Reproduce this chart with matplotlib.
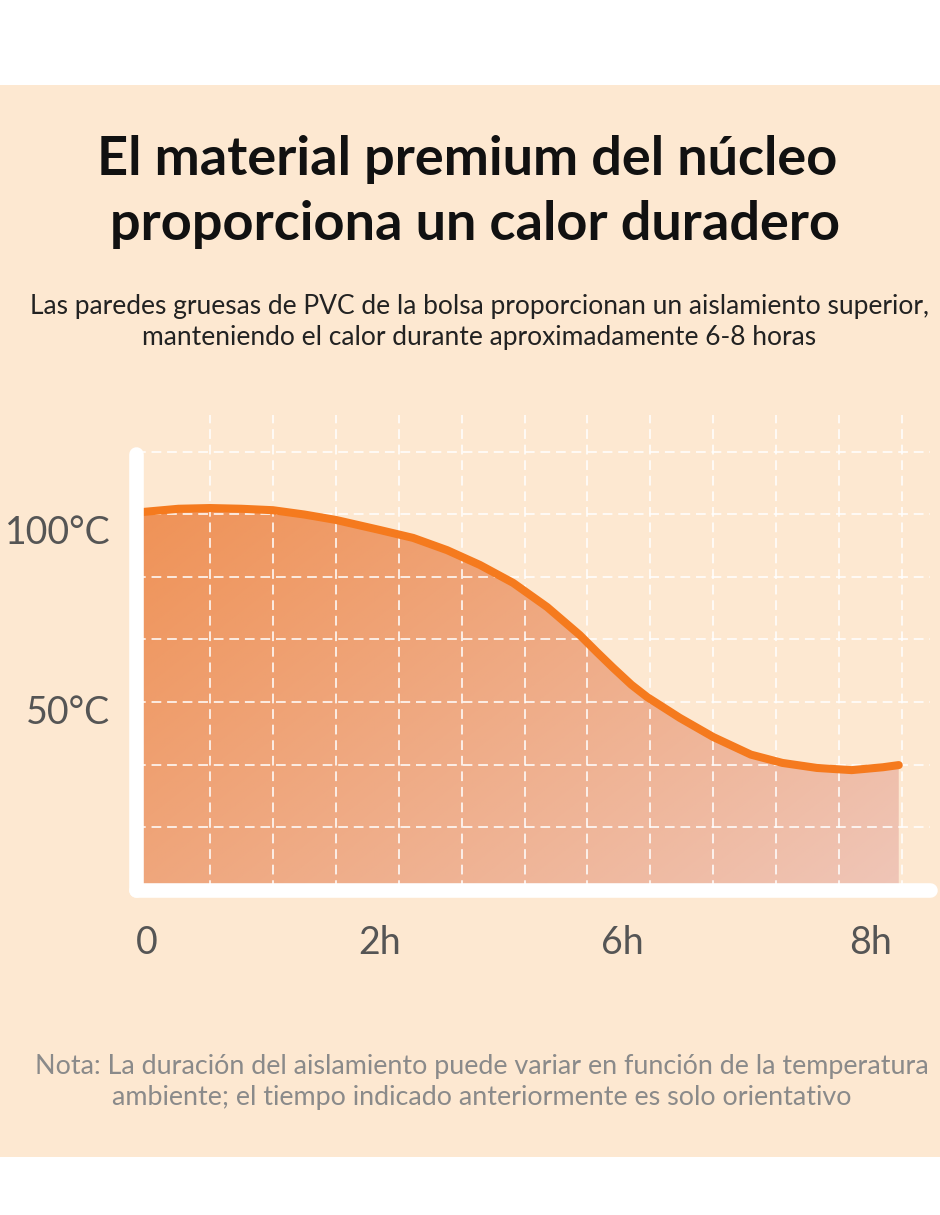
import numpy as np
import matplotlib
matplotlib.use("Agg")
import matplotlib.pyplot as plt
from matplotlib.patches import Rectangle
from matplotlib.ticker import FixedLocator, MultipleLocator

# curve: x in grid columns, temperature in °C
x_pts = [-0.07, 0.5, 1.0, 1.5, 2.0, 2.5, 3.0, 3.7, 4.23, 4.77, 5.29, 5.82, 6.36,
         6.88, 7.15, 7.41, 7.7, 7.95, 8.47, 9.0, 9.6, 10.1, 10.65, 11.2, 11.7, 11.95]
temps = [105.0, 105.9, 106.1, 105.9, 105.5, 104.3, 102.8, 100.0, 97.8, 94.4, 90.3,
         85.3, 78.6, 70.8, 66.1, 61.7, 57.0, 53.6, 47.8, 42.5, 37.6, 35.3, 33.9,
         33.3, 34.1, 34.7]

x_tick_pos = [0, 3.7, 7.55, 11.5]
x_tick_lab = ["0", "2h", "6h", "8h"]
y_tick_pos = [50, 100]
y_tick_lab = ["50°C", "100°C"]

title_lines = ["El material premium del núcleo", "proporciona un calor duradero"]
subtitle = ("Las paredes gruesas de PVC de la bolsa proporcionan un aislamiento superior,\n"
            "manteniendo el calor durante aproximadamente 6-8 horas")
nota = ("Nota: La duración del aislamiento puede variar en función de la temperatura\n"
        "ambiente; el tiempo indicado anteriormente es solo orientativo")

BG = "#FDE8D1"
LINE = "#F57A1E"
thin = dict(family="Lato", fontweight="normal")

W, H = 940, 1215
fig = plt.figure(figsize=(W / 100, H / 100), dpi=100)
fig.patch.set_facecolor("white")
fig.patches.append(Rectangle((0, 58 / H), 1, (1157 - 85) / H, transform=fig.transFigure,
                             facecolor=BG, edgecolor="none", zorder=-10))

# axes placed in pixels: x=0 at px 147, 62.9 px per column; 0°C at px 890, 3.6 px per degree
x0, x1 = (135.5 - 147.1) / 62.9, (930 - 147.1) / 62.9
y0, y1 = 0, (890 - 415) / 3.6
ax = fig.add_axes([135.5 / W, (H - 890) / H, (930 - 135.5) / W, (890 - 415) / H])
ax.set_facecolor("none")
ax.set_xlim(x0, x1)
ax.set_ylim(y0, y1)

# gradient fill under the curve
gx = np.linspace(x_pts[0], x_pts[-1], 300)
gy = np.linspace(0, max(temps), 200)
GX, GY = np.meshgrid(gx, gy)
t = 0.6 * (GX / 12) + 0.4 * (1 - GY / 110)
t = np.clip(t, 0, 1)[..., None]
c0 = np.array([239, 146, 86]) / 255
c1 = np.array([239, 198, 184]) / 255
img = c0 * (1 - t) + c1 * t
im = ax.imshow(img, extent=[x_pts[0], x_pts[-1], 0, max(temps)], origin="lower",
               aspect="auto", zorder=1, interpolation="bilinear")
poly = ax.fill_between(x_pts, temps, 0, color="none", lw=0)
im.set_clip_path(poly.get_paths()[0], transform=ax.transData)

ax.plot(x_pts, temps, color=LINE, lw=5.8, solid_capstyle="round",
        solid_joinstyle="round", zorder=4)

# grid
ax.xaxis.set_minor_locator(FixedLocator(np.arange(1, 13)))
ax.yaxis.set_minor_locator(MultipleLocator(17.4))
ax.set_axisbelow(False)
ax.grid(which="minor", color="white", lw=1.4, ls=(0, (5, 3)), alpha=0.8)
ax.grid(which="major", visible=False)
ax.tick_params(which="both", length=0)

ax.set_xticks(x_tick_pos, x_tick_lab)
ax.set_yticks(y_tick_pos, y_tick_lab)
ax.tick_params(axis="x", pad=25, labelsize=27, labelcolor="#555555")
ax.tick_params(axis="y", pad=18, labelsize=27, labelcolor="#555555")
for lab in ax.get_xticklabels() + ax.get_yticklabels():
    lab.set(**thin)

for s in ["top", "right"]:
    ax.spines[s].set_visible(False)
for s in ["left", "bottom"]:
    ax.spines[s].set_color("white")
    ax.spines[s].set_linewidth(10.5)
    ax.spines[s].set_capstyle("round")
    ax.spines[s].set_zorder(5)
ax.spines["left"].set_bounds(0, 121)

# texts
fig.text(0.497, 1 - 160 / H, title_lines[0], ha="center", va="center", fontsize=39,
         fontweight=700, family="Lato", color="#111111")
fig.text(0.505, 1 - 225 / H, title_lines[1], ha="center", va="center", fontsize=39,
         fontweight=700, family="Lato", color="#111111")
fig.text(0.51, 1 - 322 / H, subtitle, ha="center", va="center", fontsize=19,
         color="#222222", linespacing=1.3, **thin)
fig.text(0.513, 1 - 1082 / H, nota, ha="center", va="center", fontsize=19.4,
         color="#8a8a8a", linespacing=1.3, **thin)

fig.savefig("out.png", dpi=100, facecolor=fig.get_facecolor())
